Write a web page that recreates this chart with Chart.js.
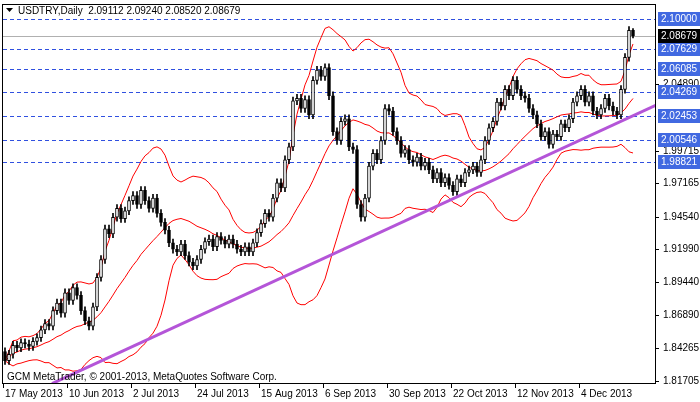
<!DOCTYPE html>
<html><head><meta charset="utf-8">
<script src="https://cdn.jsdelivr.net/npm/chart.js@4"></script>
<style>html,body{margin:0;padding:0;background:#fff}#c{display:block}</style>
</head><body>
<canvas id="c" width="700" height="402"></canvas>
<script>
const closes = [
1.833,1.838,1.845,1.843,1.847,1.846,1.844,1.848,1.851,1.857,
1.862,1.860,1.872,1.878,1.870,1.886,1.880,1.890,1.884,1.872,
1.864,1.860,1.875,1.898,1.912,1.936,1.932,1.945,1.952,1.944,
1.950,1.958,1.962,1.955,1.966,1.958,1.952,1.960,1.948,1.941,
1.935,1.925,1.920,1.918,1.924,1.915,1.910,1.907,1.912,1.920,
1.926,1.928,1.922,1.930,1.927,1.924,1.928,1.924,1.920,1.918,
1.922,1.918,1.925,1.933,1.940,1.948,1.945,1.960,1.972,1.968,
1.990,2.000,2.036,2.038,2.030,2.037,2.025,2.052,2.060,2.055,
2.062,2.040,2.012,2.005,2.020,2.022,2.000,1.998,1.955,1.945,
1.960,1.985,1.995,1.990,2.005,2.030,2.028,2.012,2.005,1.995,
1.998,1.990,1.988,1.992,1.985,1.988,1.982,1.975,1.980,1.972,
1.976,1.970,1.965,1.975,1.972,1.980,1.982,1.985,1.980,1.990,
2.005,2.015,2.020,2.035,2.032,2.045,2.040,2.052,2.045,2.040,
2.038,2.030,2.025,2.018,2.008,2.012,2.002,2.010,2.008,2.018,
2.015,2.022,2.035,2.040,2.045,2.035,2.040,2.028,2.025,2.030,
2.038,2.032,2.028,2.025,2.045,2.070,2.0911,2.08679];
const firstOpen = 1.840;
const lastBar = {o:2.09112,h:2.09240,l:2.08520,c:2.08679};
const dateLabels = ["17 May 2013","10 Jun 2013","2 Jul 2013","24 Jul 2013","15 Aug 2013","6 Sep 2013","30 Sep 2013","22 Oct 2013","12 Nov 2013","4 Dec 2013"];
const dateEvery = 16;
const emptySlotsRight = 5;
const levels = [2.10000,2.07629,2.06085,2.04269,2.02453,2.00546,1.98821];
const axisTicks = [2.04890,1.99715,1.97165,1.94540,1.91990,1.89440,1.86890,1.84265,1.81705];
const currentPrice = 2.08679;
const trend = [[11.75,1.815],[163,2.033]];

const n = closes.length;
const opens = closes.map((c,i)=> i===0?firstOpen:closes[i-1]);
opens[n-1]=lastBar.o;
const highs = closes.map((c,i)=>Math.max(c,opens[i])+0.003);
const lows = closes.map((c,i)=>Math.min(c,opens[i])-0.003);
highs[n-1]=lastBar.h; lows[n-1]=lastBar.l;
const mid=[],up=[],lo=[];
for(let i=0;i<n;i++){const w=closes.slice(Math.max(0,i-19),i+1);const m=w.reduce((a,b)=>a+b,0)/w.length;const sd=Math.sqrt(w.reduce((a,b)=>a+(b-m)*(b-m),0)/w.length);mid.push(m);up.push(m+2*sd);lo.push(m-2*sd);}
const labels = [];for(let i=0;i<n+emptySlotsRight;i++)labels.push(String(i));
const bodies = closes.map((c,i)=>{let a=Math.min(c,opens[i]),b=Math.max(c,opens[i]);if(b-a<0.0006)b=a+0.0006;return [a,b];});
const F='10px "Liberation Sans"';
const deco={id:'deco',
beforeDatasetsDraw(ch){const {ctx,chartArea:a,scales:{y}}=ch;ctx.save();
 ctx.strokeStyle='#3050e0';ctx.lineWidth=1;ctx.setLineDash([4,3]);
 levels.forEach(v=>{const p=Math.round(y.getPixelForValue(v))+0.5;ctx.beginPath();ctx.moveTo(a.left,p);ctx.lineTo(a.right,p);ctx.stroke();});
 ctx.setLineDash([]);ctx.strokeStyle='#b0b0b0';const p=Math.round(y.getPixelForValue(currentPrice))+0.5;ctx.beginPath();ctx.moveTo(a.left,p);ctx.lineTo(a.right,p);ctx.stroke();ctx.restore();},
afterDatasetsDraw(ch){const {ctx,chartArea:a,scales:{x,y}}=ch;ctx.save();ctx.beginPath();ctx.rect(a.left,a.top,a.right-a.left,a.bottom-a.top);ctx.clip();
 ctx.strokeStyle='#b455d8';ctx.lineWidth=3;ctx.beginPath();ctx.moveTo(x.getPixelForValue(trend[0][0]),y.getPixelForValue(trend[0][1]));ctx.lineTo(x.getPixelForValue(trend[1][0]),y.getPixelForValue(trend[1][1]));ctx.stroke();ctx.restore();},
afterDraw(ch){const {ctx,chartArea:a,scales:{x,y}}=ch;ctx.save();
 ctx.strokeStyle='#000';ctx.lineWidth=1;ctx.strokeRect(a.left-0.5,a.top-0.5,a.right-a.left+1,a.bottom-a.top+1);
 ctx.font=F;ctx.textBaseline='middle';ctx.fillStyle='#000';
 axisTicks.forEach(v=>{const p=Math.round(y.getPixelForValue(v));ctx.fillRect(a.right,p,4,1);ctx.fillText(v.toFixed(5),a.right+8,p);});
 levels.forEach(v=>{const p=Math.round(y.getPixelForValue(v));ctx.fillStyle='#4169e1';ctx.fillRect(a.right+3,p-7,42,14);ctx.fillStyle='#fff';ctx.fillText(v.toFixed(5),a.right+6,p);});
 const cp=Math.round(y.getPixelForValue(currentPrice));ctx.fillStyle='#000';ctx.fillRect(a.right+3,cp-7,42,14);ctx.fillStyle='#fff';ctx.fillText(currentPrice.toFixed(5),a.right+6,cp);
 ctx.fillStyle='#000';ctx.textBaseline='alphabetic';
 dateLabels.forEach((t,k)=>{const px=Math.round(x.getPixelForValue(k*dateEvery))-2;ctx.fillRect(px,a.bottom+1,1,4);ctx.fillText(t,px+2,a.bottom+14);});
 ctx.fillText('USDTRY,Daily  2.09112 2.09240 2.08520 2.08679',18,14);
 ctx.beginPath();ctx.moveTo(6,8);ctx.lineTo(13,8);ctx.lineTo(9.5,12);ctx.closePath();ctx.fill();
 ctx.fillText('GCM MetaTrader, © 2001-2013, MetaQuotes Software Corp.',7,380);
 ctx.restore();}};
new Chart(document.getElementById('c'),{
 type:'bar',
 data:{labels,datasets:[
  {type:'line',data:up,borderColor:'#ff0000',borderWidth:1,pointRadius:0,tension:0,order:3},
  {type:'line',data:mid,borderColor:'#ff0000',borderWidth:1,pointRadius:0,tension:0,order:3},
  {type:'line',data:lo,borderColor:'#ff0000',borderWidth:1,pointRadius:0,tension:0,order:3},
  {data:closes.map((c,i)=>[lows[i],highs[i]]),backgroundColor:'#000',barThickness:1,grouped:false,order:2},
  {data:bodies,backgroundColor:closes.map((c,i)=>c>=opens[i]?'#fff':'#000'),borderColor:'#000',borderWidth:1,borderSkipped:false,barThickness:3,grouped:false,order:1}
 ]},
 options:{responsive:false,animation:false,devicePixelRatio:1,
  layout:{padding:{left:3,top:5}},
  plugins:{legend:{display:false},tooltip:{enabled:false}},
  scales:{
   x:{type:'category',offset:true,grid:{display:false},border:{display:false},ticks:{display:false},afterFit(s){s.height=19;}},
   y:{position:'right',min:1.8155,max:2.1109,grid:{display:false},border:{display:false},ticks:{display:false},afterFit(s){s.width=45;}}
  }},
 plugins:[deco]});
</script>
</body></html>
